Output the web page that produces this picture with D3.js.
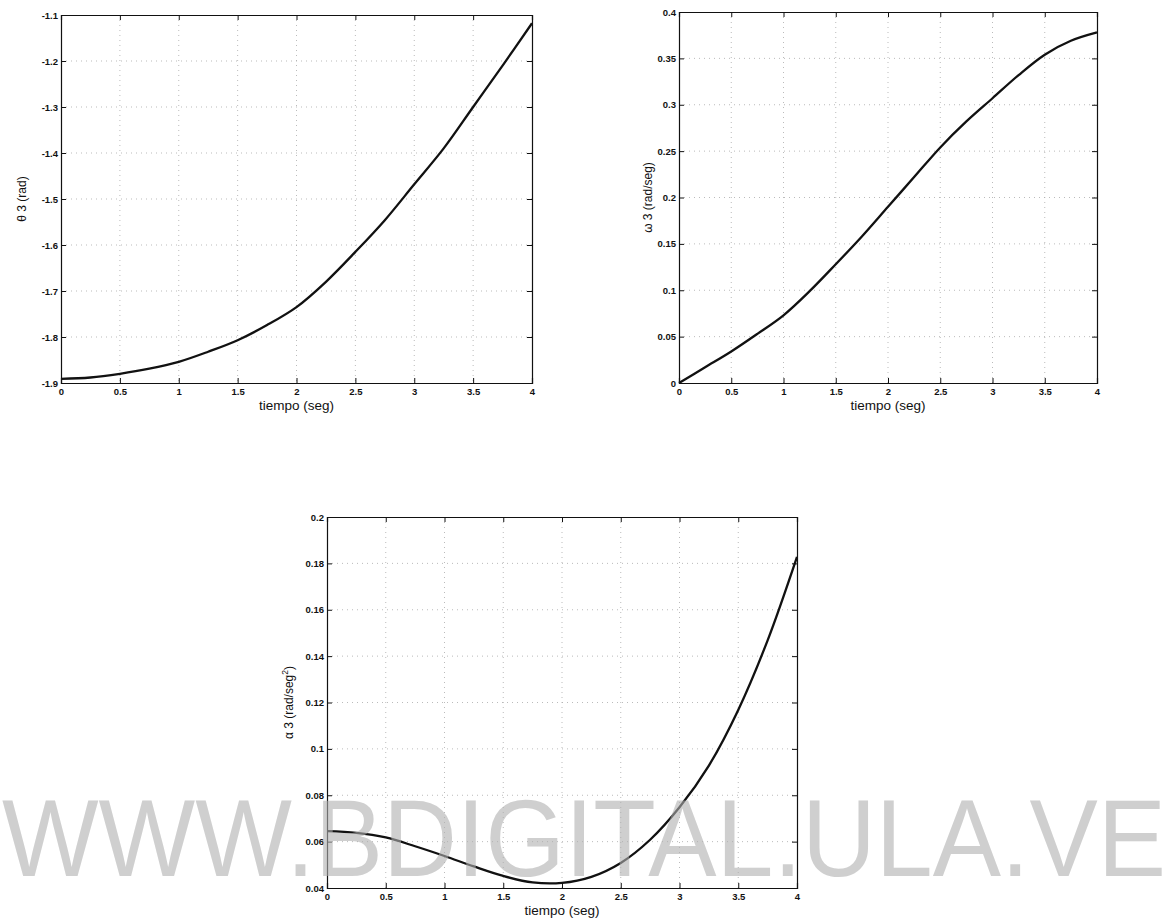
<!DOCTYPE html>
<html>
<head>
<meta charset="utf-8">
<script src="https://cdn.jsdelivr.net/npm/d3@7"></script>
<style>
  body { margin: 0; background: #fff; }
  svg { display: block; }
  .tick text { font-family: "Liberation Sans", Arial, sans-serif; font-size: 9.5px; font-weight: bold; fill: #111; }
  .axlabel { font-family: "Liberation Sans", Arial, sans-serif; fill: #111; }
</style>
</head>
<body>
<svg id="chart"></svg>
<script>
// --- data ---
const tiempo = [0, 0.25, 0.5, 0.75, 1, 1.25, 1.5, 1.75, 2, 2.25, 2.5, 2.75, 3, 3.25, 3.5, 3.75, 4];

const theta3 = [-1.891, -1.888, -1.880, -1.869, -1.854, -1.832, -1.807, -1.774, -1.735,
                -1.680, -1.615, -1.546, -1.468, -1.390, -1.300, -1.210, -1.118];

const omega3 = [0, 0.017, 0.034, 0.053, 0.073, 0.099, 0.128, 0.158, 0.190,
                0.222, 0.254, 0.282, 0.307, 0.332, 0.354, 0.369, 0.378];

const alpha3 = [0.0645, 0.0638, 0.0618, 0.0580, 0.0538, 0.0493, 0.0452, 0.0424, 0.0422,
                0.0448, 0.0508, 0.0608, 0.0748, 0.0928, 0.1168, 0.1468, 0.1828];

const xTicks = [0, 0.5, 1, 1.5, 2, 2.5, 3, 3.5, 4];
const thetaTicks = [-1.9, -1.8, -1.7, -1.6, -1.5, -1.4, -1.3, -1.2, -1.1];
const omegaTicks = [0, 0.05, 0.1, 0.15, 0.2, 0.25, 0.3, 0.35, 0.4];
const alphaTicks = [0.04, 0.06, 0.08, 0.1, 0.12, 0.14, 0.16, 0.18, 0.2];

const xLabel = "tiempo (seg)";

// --- setup ---
const width = 1169;
const height = 921;

const svg = d3.select("#chart")
    .attr("width", width)
    .attr("height", height);

const fmt = v => String(+v.toFixed(2));

// draws one MATLAB style subplot
function drawPanel(box, values, yTicks, yLabel, yLabelGap) {
    const x = d3.scaleLinear().domain([0, 4]).range([box.x0, box.x1]);
    const y = d3.scaleLinear().domain([yTicks[0], yTicks[yTicks.length - 1]]).range([box.y1, box.y0]);

    const g = svg.append("g");

    // dotted grid
    g.append("g").selectAll("line.vg")
        .data(xTicks.slice(1, -1))
        .join("line")
        .attr("x1", d => x(d)).attr("x2", d => x(d))
        .attr("y1", box.y0).attr("y2", box.y1)
        .attr("stroke", "#aaa").attr("stroke-width", 0.8)
        .attr("stroke-dasharray", "1,4");
    g.append("g").selectAll("line.hg")
        .data(yTicks.slice(1, -1))
        .join("line")
        .attr("x1", box.x0).attr("x2", box.x1)
        .attr("y1", d => y(d)).attr("y2", d => y(d))
        .attr("stroke", "#aaa").attr("stroke-width", 0.8)
        .attr("stroke-dasharray", "1,4");

    // axes with inward ticks on all four sides
    g.append("g")
        .attr("transform", `translate(0,${box.y1})`)
        .call(d3.axisBottom(x).tickValues(xTicks).tickSize(-5).tickPadding(5).tickFormat(fmt));
    g.append("g")
        .attr("transform", `translate(0,${box.y0})`)
        .call(d3.axisTop(x).tickValues(xTicks).tickSize(-5).tickFormat(""));
    g.append("g")
        .attr("transform", `translate(${box.x0},0)`)
        .call(d3.axisLeft(y).tickValues(yTicks).tickSize(-5).tickPadding(3).tickFormat(fmt));
    g.append("g")
        .attr("transform", `translate(${box.x1},0)`)
        .call(d3.axisRight(y).tickValues(yTicks).tickSize(-5).tickFormat(""));

    g.selectAll(".domain").attr("stroke", "#111").attr("stroke-width", 1.2);
    g.selectAll(".tick line").attr("stroke", "#111");

    // curve
    const line = d3.line()
        .x((d, i) => x(tiempo[i]))
        .y(d => y(d))
        .curve(d3.curveCatmullRom);
    g.append("path")
        .datum(values)
        .attr("d", line)
        .attr("fill", "none")
        .attr("stroke", "#111")
        .attr("stroke-width", 2.3);

    // x label
    g.append("text")
        .attr("class", "axlabel")
        .attr("x", (box.x0 + box.x1) / 2)
        .attr("y", box.y1 + 27)
        .attr("text-anchor", "middle")
        .attr("font-size", 13.5)
        .text(xLabel);

    // y label
    const yl = g.append("text")
        .attr("class", "axlabel")
        .attr("transform", `translate(${box.x0 - yLabelGap},${(box.y0 + box.y1) / 2}) rotate(-90)`)
        .attr("text-anchor", "middle")
        .attr("font-size", 12);
    yl.append("tspan").text(yLabel[0]);
    if (yLabel[1]) {
        yl.append("tspan").attr("font-size", 8.5).attr("dy", -5).text(yLabel[1]);
        yl.append("tspan").attr("dy", 5).text(yLabel[2]);
    }
}

drawPanel({x0: 61, x1: 532, y0: 15, y1: 383}, theta3, thetaTicks, ["\u03b8 3 (rad)"], 35);
drawPanel({x0: 679, x1: 1097, y0: 12, y1: 383}, omega3, omegaTicks, ["\u03c9 3 (rad/seg)"], 27);
drawPanel({x0: 327, x1: 797, y0: 517, y1: 888}, alpha3, alphaTicks, ["\u03b1 3 (rad/seg", "2", ")"], 34);

// repository watermark over the bottom plot (semi transparent, marks show through)
svg.append("text")
    .attr("x", 2)
    .attr("y", 876)
    .attr("textLength", 1164)
    .attr("lengthAdjust", "spacingAndGlyphs")
    .attr("font-family", "Liberation Sans, Arial, sans-serif")
    .attr("font-size", 110)
    .attr("fill", "#b0b0b0")
    .attr("opacity", 0.6)
    .text("WWW.BDIGITAL.ULA.VE");
</script>
</body>
</html>
